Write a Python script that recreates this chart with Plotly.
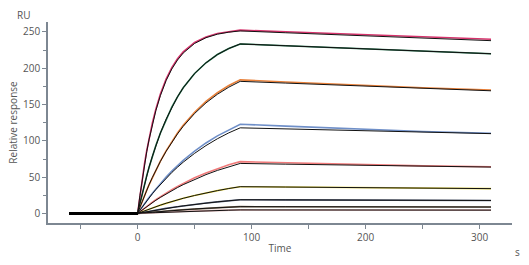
import plotly.graph_objects as go

# time points (s)
time_s = [-60, 0, 2, 4, 6, 8, 10, 13, 16, 20, 25, 30, 35, 40, 50, 60, 70, 80, 90, 130, 170, 210, 250, 310]

# fitted curves (RU)
fit_1 = [0, 0, 24.6, 46.9, 67.0, 85.1, 101.5, 123.1, 141.7, 162.4, 183.1, 199.0, 211.3, 221.0, 234.2, 242.1, 246.9, 249.7, 251.4, 248.9, 246.4, 244.0, 241.5, 238.0]
fit_2 = [0, 0, 14.2, 27.6, 40.3, 52.2, 63.5, 79.1, 93.6, 110.9, 130.0, 146.4, 160.7, 173.1, 192.9, 207.6, 218.9, 227.2, 233.5, 231.0, 228.5, 226.0, 223.5, 220.0]
fit_3 = [0, 0, 8.5, 16.8, 24.6, 32.2, 39.5, 49.9, 59.7, 71.9, 85.7, 98.4, 109.7, 120.1, 137.8, 152.4, 164.2, 174.0, 182.0, 179.6, 177.3, 175.0, 172.5, 169.0]
fit_4 = [0, 0, 4.6, 9.0, 13.3, 17.5, 21.6, 27.4, 33.1, 40.2, 48.6, 56.5, 63.8, 70.7, 82.9, 93.6, 103.0, 111.1, 118.0, 116.5, 115.0, 113.6, 112.0, 110.0]
fit_5 = [0, 0, 2.5, 4.9, 7.3, 9.6, 11.8, 15.1, 18.3, 22.3, 27.1, 31.6, 35.8, 39.8, 47.2, 53.6, 59.4, 64.5, 69.0, 68.0, 67.2, 66.3, 65.4, 64.0]
fit_6 = [0, 0, 1.28, 2.53, 3.76, 4.96, 6.14, 7.85, 9.52, 11.6, 14.2, 16.6, 18.8, 21.0, 24.9, 28.5, 31.6, 34.5, 37.0, 36.5, 36.0, 35.5, 35.0, 34.3]
fit_7 = [0, 0, 0.63, 1.26, 1.86, 2.46, 3.05, 3.9, 4.74, 5.8, 7.08, 8.3, 9.46, 10.56, 12.6, 14.45, 16.1, 17.6, 19.0, 18.8, 18.6, 18.4, 18.2, 18.0]
fit_8 = [0, 0, 0.32, 0.63, 0.93, 1.23, 1.53, 1.95, 2.37, 2.9, 3.54, 4.15, 4.73, 5.28, 6.3, 7.23, 8.05, 8.8, 9.5, 9.4, 9.3, 9.2, 9.1, 9.0]
fit_9 = [0, 0, 0.17, 0.33, 0.49, 0.65, 0.8, 1.03, 1.25, 1.53, 1.86, 2.18, 2.49, 2.78, 3.32, 3.8, 4.24, 4.63, 5.0, 4.95, 4.9, 4.85, 4.8, 4.7]

# measured responses (RU)
data_1 = [0, 0, 25.0, 47.5, 68.0, 86.5, 103.0, 125.0, 143.5, 164.5, 185.0, 201.0, 213.0, 222.5, 235.5, 243.0, 247.8, 250.5, 252.5, 250.2, 248.0, 245.8, 243.5, 240.0]
data_2 = fit_2
data_3 = [0, 0, 8.5, 16.8, 24.6, 32.2, 39.5, 49.9, 59.8, 72.2, 86.2, 99.2, 110.8, 121.4, 139.4, 154.3, 166.3, 176.3, 184.0, 181.0, 178.3, 175.8, 173.2, 170.0]
data_4 = [0, 0, 4.7, 9.2, 13.6, 17.9, 22.1, 28.1, 34.0, 41.4, 50.2, 58.4, 66.0, 73.2, 86.0, 97.2, 107.0, 115.4, 123.0, 120.3, 117.8, 115.2, 113.0, 110.5]
data_5 = [0, 0, 2.6, 5.1, 7.6, 10.0, 12.3, 15.7, 19.0, 23.2, 28.2, 32.9, 37.3, 41.5, 49.2, 55.9, 62.0, 67.3, 71.5, 69.8, 68.3, 66.9, 65.6, 64.5]
data_6 = fit_6
data_7 = fit_7
data_8 = fit_8
data_9 = fit_9

series_colors = ["#d6336c", "#1b6e47", "#e8803a", "#6f8fc8", "#f07a7a", "#e6d84a", "#55607a", "#7d6b55", "#d8a8a8"]
data_all = [data_1, data_2, data_3, data_4, data_5, data_6, data_7, data_8, data_9]
fit_all = [fit_1, fit_2, fit_3, fit_4, fit_5, fit_6, fit_7, fit_8, fit_9]

fig = go.Figure()
for d, c in zip(data_all, series_colors):
    fig.add_trace(go.Scatter(x=time_s[1:], y=d[1:], mode="lines",
                             line=dict(color=c, width=1.6), hoverinfo="skip"))
for f in fit_all:
    fig.add_trace(go.Scatter(x=time_s, y=f, mode="lines",
                             line=dict(color="#111111", width=1), hoverinfo="skip"))
    fig.add_trace(go.Scatter(x=time_s[:2], y=f[:2], mode="lines",
                             line=dict(color="#000000", width=3), hoverinfo="skip"))

axis_col = "#7d8792"
txt_col = "#555555"
font = dict(family="Open Sans", size=10, color=txt_col)

fig.update_layout(
    width=529, height=265,
    margin=dict(l=46, r=17, t=22, b=41),
    paper_bgcolor="white", plot_bgcolor="white",
    showlegend=False,
    font=font,
    xaxis=dict(range=[-78.6, 328.4], tickvals=[0, 100, 200, 300], ticks="outside",
               ticklen=4, tickcolor=axis_col, showline=True, linecolor=axis_col, linewidth=1.5,
               showgrid=False, zeroline=False,
               minor=dict(tickvals=[-50, 50, 150, 250], ticks="outside", ticklen=4, tickcolor=axis_col, showgrid=False),
               title=dict(text="Time", standoff=2, font=dict(family="Open Sans", size=10, color=txt_col)),
               tickfont=dict(family="Open Sans", size=10, color=txt_col)),
    yaxis=dict(range=[-13, 263.7], tickvals=[0, 50, 100, 150, 200, 250], ticks="outside",
               ticklen=4, tickcolor=axis_col, showline=True, linecolor=axis_col, linewidth=1.5,
               showgrid=False, zeroline=False,
               minor=dict(tickvals=[25, 75, 125, 175, 225], ticks="outside", ticklen=3, tickcolor=axis_col, showgrid=False),
               title=dict(text="Relative response", standoff=4, font=dict(family="Open Sans", size=10, color=txt_col)),
               tickfont=dict(family="Open Sans", size=10, color=txt_col)),
    annotations=[
        dict(text="RU", xref="paper", yref="paper", x=-0.071, y=1.035, xanchor="left", yanchor="middle",
             showarrow=False, font=dict(family="Open Sans", size=10, color=txt_col)),
        dict(text="s", xref="paper", yref="paper", x=1.003, y=-0.1, xanchor="left", yanchor="top",
             showarrow=False, font=dict(family="Open Sans", size=10, color=txt_col)),
    ],
)

fig.write_html("out.html")
